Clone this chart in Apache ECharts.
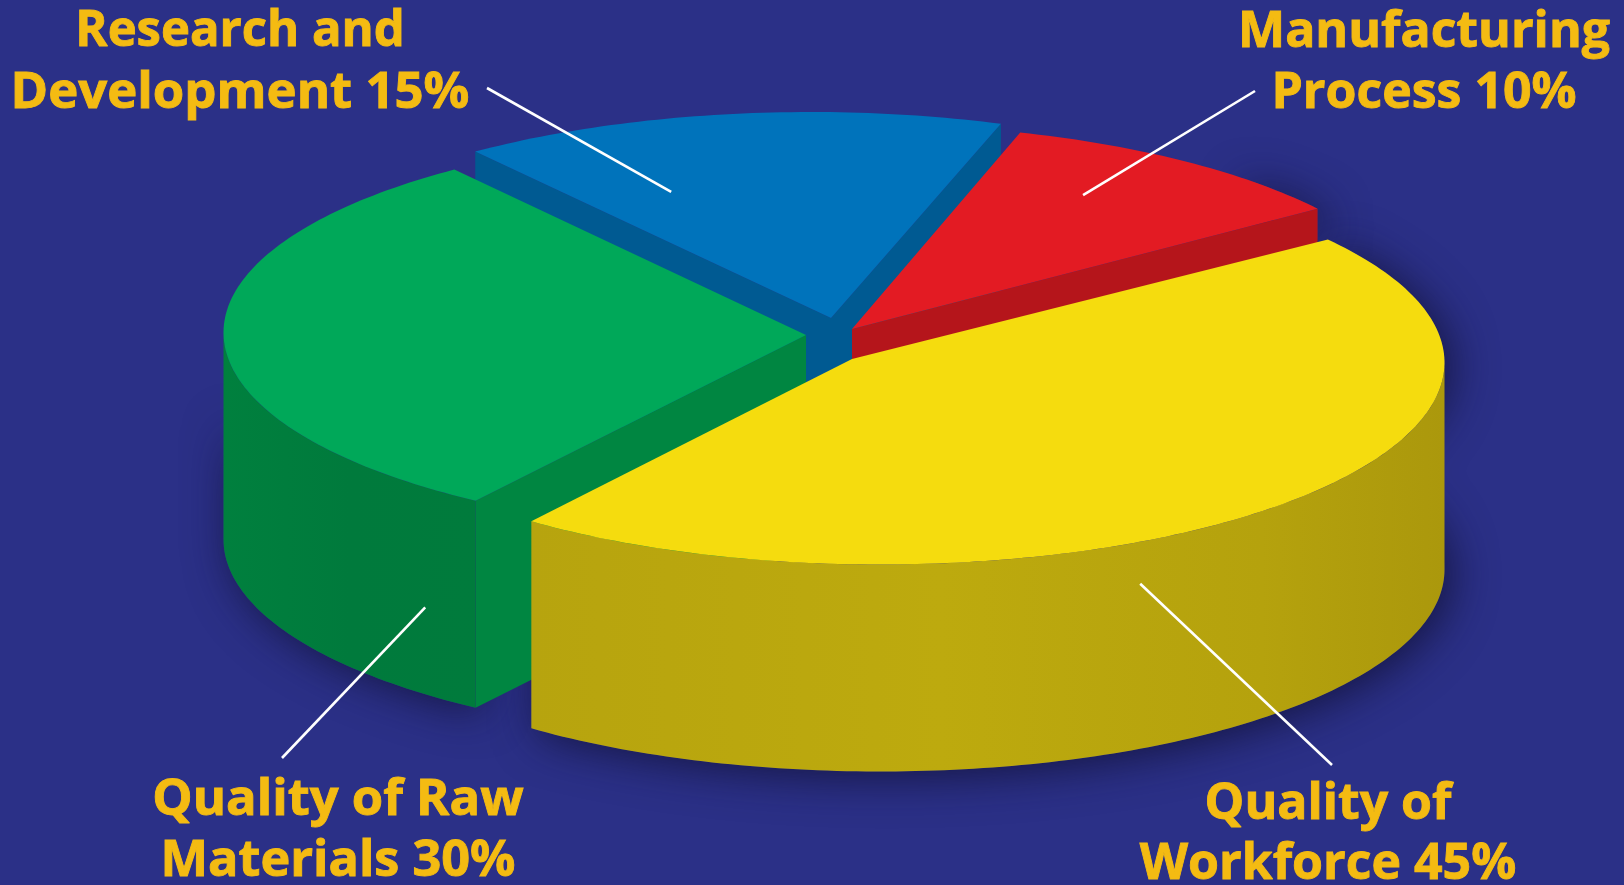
<!DOCTYPE html>
<html>
<head>
<meta charset="utf-8">
<title>Factors in product quality</title>
<style>html,body{margin:0;padding:0;background:#2b3087}#chart{width:1624px;height:885px}</style>
<script src="https://cdn.jsdelivr.net/npm/echarts@6/dist/echarts.min.js"></script>
</head>
<body>
<div id="chart"></div>
<script>
// Shares of the pie, clockwise from the right-hand cut of the largest slice.
const categories = ['Quality of Workforce', 'Quality of Raw Materials', 'Research and Development', 'Manufacturing Process'];
const shares = [45, 30, 15, 10];
const labelFirstLines = ['Quality of', 'Quality of Raw', 'Research and', 'Manufacturing'];
const labelSecondLines = ['Workforce', 'Materials', 'Development', 'Process'];

// Face colours per slice.
const topColors = ['#f5dc0e', '#00a859', '#0073bb', '#e31b23'];
const cutColors = ['#b8a50e', '#008641', '#005a92', '#b5151b'];

// Perspective projection of the disc. Each exploded slice has an ellipse centre,
// an apex slightly off that centre, a start angle and a foreshortened sweep.
const RX = 564.5;
const RY = 202;
const DEPTH = 207;
const ellipseCenters = [[880, 362.5], [788, 332.5], [811, 314], [858, 326]];
const apexes = [[852, 359], [806, 335], [831, 318], [852, 329]];
const startAngles = [-37.5, 123.6, 233.5, -73.3];
const sweepScale = [1.0225, 1.02, 1.04, 1.05];
const paintOrder = [3, 2, 0, 1]; // stacking height per slice: yellow last, blue first

// Callouts: inner end is sweep fraction, radius fraction and drop down the wall.
const calloutInner = [[0.604, 1, 0.203], [0.058, 1, 0.58], [0.253, 0.653, 0], [0.394, 0.761, 0]];
const calloutOuter = [[1332, 765], [282, 758], [487, 88], [1255, 91]];
const labelBoxes = [
  { x: 1328, y1: 805, y2: 865, sx: [1, 1] },
  { x: 338, y1: 801, y2: 862, sx: [1.015, 1.008] },
  { x: 240, y1: 32, y2: 94, sx: [0.98, 1.018] },
  { x: 1424, y1: 33, y2: 94, sx: [1, 1] }
];
const LABEL_FONT = '700 50px "Open Sans", sans-serif';

const rows = shares.map(function (v, i) { return [v, i]; });

function sweep(api) {
  const i = api.value(1);
  return [startAngles[i], startAngles[i] + api.value(0) * 3.6 * sweepScale[i]];
}
function rimPoint(i, deg, radius, drop) {
  const t = deg * Math.PI / 180;
  return [
    ellipseCenters[i][0] + Math.cos(t) * RX * radius,
    ellipseCenters[i][1] + Math.sin(t) * RY * radius + drop
  ];
}
function arc(i, from, to, drop) {
  const pts = [];
  const n = Math.max(2, Math.ceil(Math.abs(to - from)));
  for (let k = 0; k <= n; k++) pts.push(rimPoint(i, from + (to - from) * k / n, 1, drop));
  return pts;
}
function wallGradient(i) {
  if (i === 0) {
    return new echarts.graphic.LinearGradient(0, 0, 1, 0, [
      { offset: 0, color: '#b7a40e' }, { offset: 0.45, color: '#bdaa0e' }, { offset: 0.8, color: '#b5a20d' }, { offset: 1, color: '#ab980c' }
    ]);
  }
  return new echarts.graphic.LinearGradient(0, 0, 1, 0, [
    { offset: 0, color: '#00803e' }, { offset: 0.5, color: '#007a3c' }, { offset: 1, color: '#007b3c' }
  ]);
}

// Soft cast shadow under the slices, painted beneath every face.
function renderShadow(params, api) {
  const i = api.value(1);
  const s = sweep(api);
  let outline = null;
  if (i === 0) outline = arc(i, s[0], s[1], 0).concat(arc(i, s[0], s[1], DEPTH).reverse());
  if (i === 1) outline = arc(i, s[0], 180, 70).concat(arc(i, s[0], 180, DEPTH).reverse());
  if (i === 3) outline = arc(i, s[1] - 12, s[1], 0).concat(arc(i, s[1] - 12, s[1], 30).reverse());
  if (!outline) return null;
  return {
    type: 'polygon', shape: { points: outline },
    style: { fill: '#2b3087', shadowBlur: 44, shadowColor: 'rgba(18,18,55,0.85)', shadowOffsetX: 7, shadowOffsetY: 5 },
    silent: true
  };
}

// Slice body: visible cut walls, outer rim, then the top face.
function renderSlice(params, api) {
  const i = api.value(1);
  const s = sweep(api);
  const z = paintOrder[i] * 10;
  const apex = apexes[i];
  const children = [];
  [[s[0], -1], [s[1], 1]].forEach(function (edge) {
    const facing = Math.cos(edge[0] * Math.PI / 180) * edge[1] > 0;
    if (!facing) return;
    const p = rimPoint(i, edge[0], 1, 0);
    children.push({
      type: 'polygon', z2: z,
      shape: { points: [apex, p, [p[0], p[1] + DEPTH], [apex[0], apex[1] + DEPTH]] },
      style: { fill: cutColors[i] }
    });
  });
  const a = Math.max(s[0], 0), b = Math.min(s[1], 180);
  if (b > a) {
    children.push({
      type: 'polygon', z2: z + 1,
      shape: { points: arc(i, a, b, 0).concat(arc(i, a, b, DEPTH).reverse()) },
      style: { fill: wallGradient(i) }
    });
  }
  children.push({
    type: 'polygon', z2: z + 2,
    shape: { points: [apex].concat(arc(i, s[0], s[1], 0)) },
    style: { fill: topColors[i] }
  });
  return { type: 'group', children: children };
}

// Leader line and two-line caption of a slice.
function renderCallout(params, api) {
  const i = api.value(1);
  const s = sweep(api);
  const c = calloutInner[i];
  const inner = rimPoint(i, s[0] + (s[1] - s[0]) * c[0], c[1], c[2] * DEPTH);
  const box = labelBoxes[i];
  const textStyle = function (txt) {
    return { text: txt, font: LABEL_FONT, fill: '#f4bb12', stroke: '#f4bb12', lineWidth: 0.9, align: 'center', verticalAlign: 'middle' };
  };
  return {
    type: 'group',
    children: [
      { type: 'line', shape: { x1: inner[0], y1: inner[1], x2: calloutOuter[i][0], y2: calloutOuter[i][1] },
        style: { stroke: '#ffffff', lineWidth: 2.6 } },
      { type: 'text', x: box.x, y: box.y1, scaleX: box.sx[0], style: textStyle(labelFirstLines[i]) },
      { type: 'text', x: box.x, y: box.y2, scaleX: box.sx[1], style: textStyle(labelSecondLines[i] + ' ' + api.value(0) + '%') }
    ]
  };
}

const chart = echarts.init(document.getElementById('chart'), null, { renderer: 'canvas' });
chart.setOption({
  backgroundColor: '#2b3087',
  animation: false,
  tooltip: { show: false },
  series: [
    { type: 'custom', name: 'shadow', coordinateSystem: 'none', z: 1, silent: true, data: rows, renderItem: renderShadow },
    { type: 'custom', name: 'slices', coordinateSystem: 'none', z: 2, data: rows, renderItem: renderSlice },
    { type: 'custom', name: 'callouts', coordinateSystem: 'none', z: 3, silent: true, data: rows, renderItem: renderCallout }
  ]
});
</script>
</body>
</html>
